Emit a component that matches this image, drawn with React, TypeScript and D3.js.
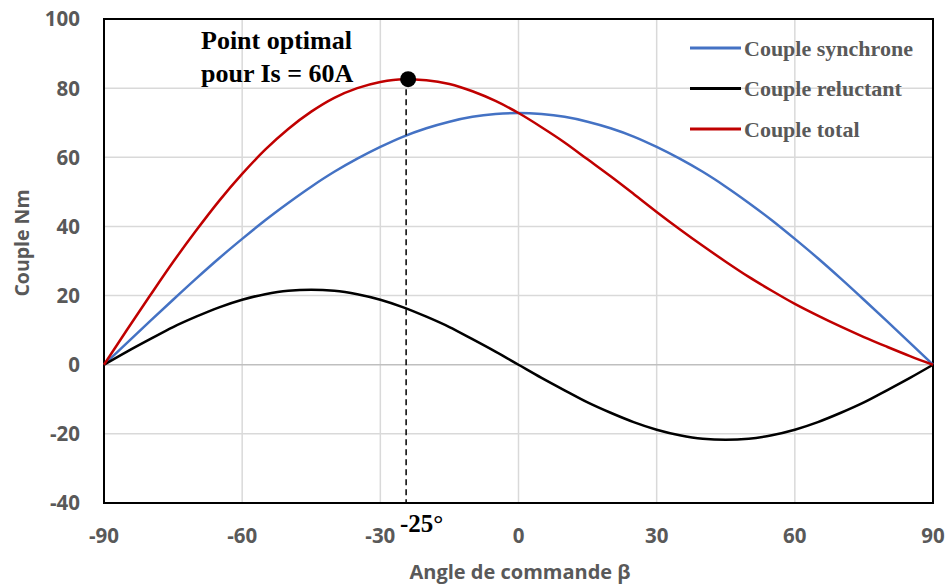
import React from "react";
import * as d3 from "d3";

const angles = [-90,-85,-80,-75,-70,-65,-60,-55,-50,-45,-40,-35,-30,-25,-20,-15,-10,-5,0,5,10,15,20,25,30,35,40,45,50,55,60,65,70,75,80,85,90];
const synchrone = [0,6.3,12.6,18.8,24.9,30.8,36.4,41.8,46.8,51.5,55.8,59.6,63.0,66.0,68.4,70.3,71.7,72.5,72.8,72.5,71.7,70.3,68.4,66.0,63.0,59.6,55.8,51.5,46.8,41.8,36.4,30.8,24.9,18.8,12.6,6.3,0];
const reluctant = [0,3.8,7.4,10.9,13.9,16.6,18.8,20.4,21.4,21.7,21.4,20.4,18.8,16.6,13.9,10.9,7.4,3.8,0,-3.8,-7.4,-10.9,-13.9,-16.6,-18.8,-20.4,-21.4,-21.7,-21.4,-20.4,-18.8,-16.6,-13.9,-10.9,-7.4,-3.8,0];
const total = [0,10.1,20.0,29.7,38.8,47.4,55.2,62.2,68.2,73.2,77.2,80.0,81.8,82.6,82.3,81.2,79.1,76.3,72.8,68.7,64.3,59.4,54.5,49.4,44.2,39.2,34.4,29.8,25.4,21.4,17.6,14.2,11.0,8.0,5.2,2.5,0];
const xTicks = [-90,-60,-30,0,30,60,90];
const yTicks = [-40,-20,0,20,40,60,80,100];
const seriesNames = ["Couple synchrone","Couple reluctant","Couple total"];
const seriesColors = ["#4472C4","#000000","#C00000"];
const optimalAngle = -24.4;
const optimalTorque = 82.6;

export default function App() {
  const W = 945, H = 587;
  const left = 104, right = 933, top = 19, bottom = 503;
  const x = d3.scaleLinear().domain([-90, 90]).range([left, right]);
  const y = d3.scaleLinear().domain([-40, 100]).range([bottom, top]);
  const line = d3.line<[number, number]>().x(d => x(d[0])).y(d => y(d[1])).curve(d3.curveMonotoneX);
  const series = [synchrone, reluctant, total];
  const tickFont = "'Open Sans', 'Liberation Sans', sans-serif";
  const serif = "'Liberation Serif', 'DejaVu Serif', serif";
  return (
    <svg width={W} height={H} style={{ position: "absolute", left: 0, top: 0, background: "#fff" }}>
      <rect x={0} y={0} width={W} height={H} fill="#fff" />
      {xTicks.map(t => (
        <line key={"gx" + t} x1={x(t)} x2={x(t)} y1={top} y2={bottom} stroke="#d9d9d9" strokeWidth={1.5} />
      ))}
      {yTicks.map(t => (
        <line key={"gy" + t} x1={left} x2={right} y1={y(t)} y2={y(t)} stroke={t === 0 ? "#bfbfbf" : "#d9d9d9"} strokeWidth={1.5} />
      ))}
      <rect x={left} y={top} width={right - left} height={bottom - top} fill="none" stroke="#000" strokeWidth={2} />
      {yTicks.map(t => (
        <text key={"ty" + t} x={80} y={y(t)} dy="0.36em" textAnchor="end" fontFamily={tickFont} fontWeight={700} fontSize={20.5} fill="#595959">{t}</text>
      ))}
      {xTicks.map(t => (
        <text key={"tx" + t} x={x(t)} y={543} textAnchor="middle" fontFamily={tickFont} fontWeight={700} fontSize={20.5} fill="#595959">{t}</text>
      ))}
      <text transform={`translate(29, 243) rotate(-90)`} textAnchor="middle" fontFamily={tickFont} fontWeight={700} fontSize={19.5} fill="#595959">Couple Nm</text>
      <text x={520} y={579} textAnchor="middle" fontFamily={tickFont} fontWeight={700} fontSize={20} fill="#595959">Angle de commande β</text>
      {series.map((s, i) => (
        <path key={"s" + i} d={line(angles.map((a, j) => [a, s[j]] as [number, number])) || ""} fill="none" stroke={seriesColors[i]} strokeWidth={2.5} />
      ))}
      <line x1={x(optimalAngle)} x2={x(optimalAngle)} y1={y(optimalTorque)} y2={bottom} stroke="#000" strokeWidth={1.5} strokeDasharray="6,4" />
      <circle cx={x(optimalAngle) + 2} cy={y(optimalTorque)} r={8} fill="#000" />
      <text x={201} y={49} fontFamily={serif} fontWeight={700} fontSize={26} fill="#000">Point optimal</text>
      <text x={201} y={82} fontFamily={serif} fontWeight={700} fontSize={26} fill="#000">pour Is = 60A</text>
      <text x={400} y={532} fontFamily={serif} fontWeight={700} fontSize={25} fill="#000">-25°</text>
      {seriesNames.map((n, i) => (
        <g key={"lg" + i}>
          <line x1={690} x2={741} y1={48 + i * 40.5} y2={48 + i * 40.5} stroke={seriesColors[i]} strokeWidth={3} />
          <text x={744} y={48 + i * 40.5} dy="0.35em" fontFamily={serif} fontWeight={700} fontSize={22} fill="#595959">{n}</text>
        </g>
      ))}
    </svg>
  );
}
